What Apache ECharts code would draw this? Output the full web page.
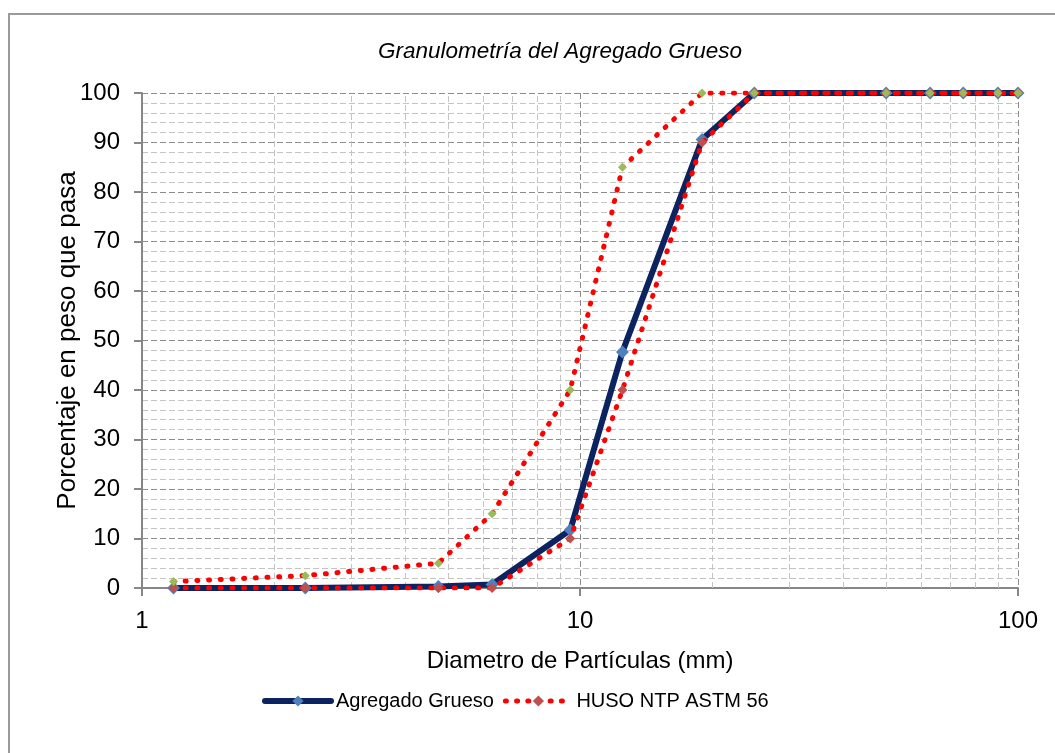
<!DOCTYPE html>
<html>
<head>
<meta charset="utf-8">
<script src="https://cdn.jsdelivr.net/npm/echarts@6/dist/echarts.min.js"></script>
<style>
  html, body { margin: 0; padding: 0; background: #fff; }
  #chart { width: 1055px; height: 753px; }
</style>
</head>
<body>
<div id="chart"></div>
<script>
// Sieve openings (mm) and percent passing
const diameters = [1.18, 2.36, 4.75, 6.3, 9.5, 12.5, 19, 25, 50, 63, 75, 90, 100];
const agregadoGrueso = [0, 0, 0.3, 0.7, 11.7, 47.7, 90.6, 100, 100, 100, 100, 100, 100];
const husoMin = [0, 0, 0, 0, 10, 40, 90, 100, 100, 100, 100, 100, 100];
const husoMax = [1.3, 2.5, 5, 15, 40, 85, 100, 100, 100, 100, 100, 100, 100];

// Minor vertical grid positions on the log axis
const minorDiameters = [2, 3, 4, 5, 6, 7, 8, 9, 20, 30, 40, 50, 60, 70, 80, 90];

const FONT = 'Liberation Sans, Arial, sans-serif';
const pairs = (ys) => diameters.map((d, i) => [d, ys[i]]);
const dotted = { type: [1, 10.7], cap: 'round', width: 5, color: '#ff0000' };
const navyLine = { color: '#0b2360', width: 6, cap: 'round' };

const chart = echarts.init(document.getElementById('chart'));
chart.setOption({
  animation: false,
  backgroundColor: '#fff',
  graphic: [{
    type: 'rect',
    shape: { x: 9, y: 14, width: 1100, height: 800 },
    style: { fill: 'none', stroke: '#9a9a9a', lineWidth: 2 },
    silent: true
  }],
  title: {
    text: 'Granulometría del Agregado Grueso',
    left: 555, top: 35, textAlign: 'center',
    textStyle: { fontFamily: FONT, fontStyle: 'italic', fontWeight: 'normal', fontSize: 22.5, color: '#000' }
  },
  legend: {
    data: [
      { name: 'Agregado Grueso', lineStyle: { width: 6, cap: 'round', color: '#0b2360' } },
      { name: 'HUSO NTP ASTM 56', lineStyle: { width: 5, cap: 'round', type: [1, 10.2], color: '#ff0000' } }
    ],
    left: 257, top: 686,
    itemWidth: 66, itemHeight: 14, itemGap: 9,
    textStyle: { fontFamily: FONT, fontSize: 20, color: '#000' }
  },
  grid: { left: 142, right: 37, top: 93, bottom: 165 },
  xAxis: {
    type: 'log', logBase: 10, min: 1, max: 100,
    name: 'Diametro de Partículas (mm)',
    nameLocation: 'middle', nameGap: 61,
    nameTextStyle: { fontFamily: FONT, fontSize: 24, color: '#000' },
    axisLine: { lineStyle: { color: '#878787', width: 2 } },
    axisTick: { show: true, length: 8, lineStyle: { color: '#878787', width: 2 } },
    axisLabel: { fontFamily: FONT, fontSize: 24, color: '#000', margin: 21 },
    splitLine: { show: true, lineStyle: { color: '#8c8c8c', type: [6, 3], width: 1 } }
  },
  yAxis: {
    type: 'value', min: 0, max: 100, interval: 10,
    name: 'Porcentaje en peso que pasa',
    nameLocation: 'middle', nameGap: 61, nameMoveOverlap: false,
    nameTextStyle: { fontFamily: FONT, fontSize: 26, color: '#000' },
    axisLine: { show: true, lineStyle: { color: '#878787', width: 2 } },
    axisTick: { show: true, length: 8, lineStyle: { color: '#878787', width: 2 } },
    axisLabel: { fontFamily: FONT, fontSize: 24, color: '#000', margin: 22 },
    splitLine: { show: true, lineStyle: { color: '#8c8c8c', type: [6, 3], width: 1 } },
    minorTick: { show: false, splitNumber: 5 },
    minorSplitLine: { show: true, lineStyle: { color: '#c4c4c4', type: [6, 3], width: 1 } }
  },
  series: [
    {
      name: 'Agregado Grueso',
      type: 'line',
      data: pairs(agregadoGrueso),
      symbol: 'diamond', symbolSize: 13,
      itemStyle: { color: '#4f81bd' },
      lineStyle: navyLine,
      z: 3,
      markLine: {
        silent: true, symbol: 'none', z: 1,
        label: { show: false },
        lineStyle: { color: '#c4c4c4', type: [6, 3], width: 1 },
        emphasis: { disabled: true },
        data: minorDiameters.map(d => ({ xAxis: d }))
      }
    },
    {
      name: 'HUSO NTP ASTM 56',
      type: 'line',
      data: pairs(husoMin),
      symbol: 'diamond', symbolSize: 10,
      itemStyle: { color: '#c0504d' },
      lineStyle: dotted,
      z: 4
    },
    {
      name: 'HUSO NTP ASTM 56',
      type: 'line',
      data: pairs(husoMax),
      symbol: 'diamond', symbolSize: 9,
      itemStyle: { color: '#9bbb59' },
      lineStyle: dotted,
      z: 5
    }
  ]
});
</script>
</body>
</html>
